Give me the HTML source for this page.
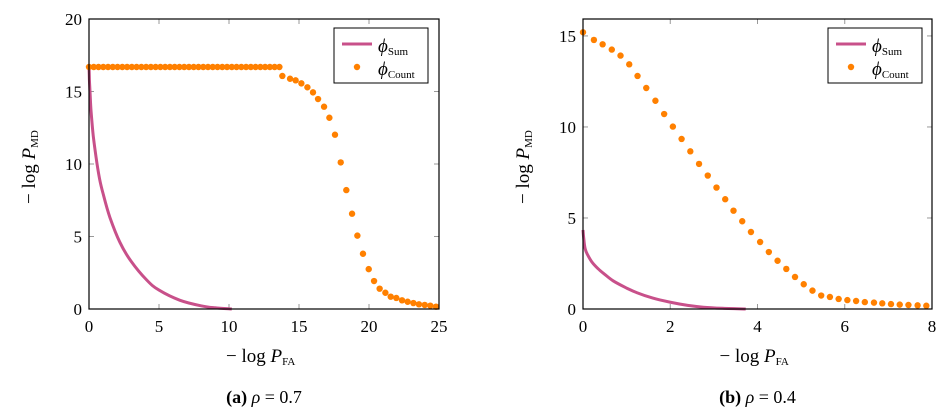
<!DOCTYPE html>
<html><head><meta charset="utf-8">
<style>
body{margin:0;background:#fff;width:952px;height:414px;overflow:hidden}
svg{display:block;font-family:"Liberation Serif",serif}
</style></head><body>
<svg id="svg" width="952" height="414"></svg>
<script>
// Chart (a) data
const aSumX=[0,0.03,0.07,0.15,0.31,0.5,0.75,1.02,1.5,2.21,3,4.12,5,6.5,8,9,10.2];
const aSumY=[16.7,15.8,15.0,13.6,11.9,10.5,9.0,7.9,6.3,4.6,3.3,2.0,1.3,0.6,0.22,0.08,0];
const aFlatCount=41, aFlatY=16.69, aFlatEnd=13.6;
const aCntX=[13.81,14.36,14.76,15.17,15.6,16.0,16.36,16.79,17.17,17.57,17.98,18.38,18.79,19.17,19.57,19.98,20.36,20.76,21.17,21.55,21.95,22.36,22.76,23.17,23.57,23.98,24.38,24.79];
const aCntY=[16.07,15.88,15.77,15.56,15.29,14.94,14.48,13.95,13.19,12.02,10.11,8.2,6.57,5.06,3.81,2.75,1.93,1.40,1.12,0.85,0.76,0.60,0.50,0.41,0.32,0.28,0.23,0.16];
const aXTicks=[0,5,10,15,20,25];
const aYTicks=[0,5,10,15,20];
// Chart (b) data
const bSumX=[0,0.02,0.05,0.1,0.2,0.35,0.5,0.69,1.0,1.23,1.6,1.99,2.4,2.76,3.2,3.73];
const bSumY=[4.34,3.8,3.3,3.0,2.6,2.2,1.9,1.55,1.15,0.9,0.6,0.38,0.2,0.1,0.04,0];
const bCntX=[0,0.25,0.45,0.66,0.86,1.06,1.25,1.45,1.66,1.86,2.06,2.26,2.46,2.66,2.86,3.06,3.26,3.45,3.65,3.85,4.06,4.26,4.46,4.66,4.86,5.06,5.26,5.46,5.66,5.86,6.06,6.26,6.46,6.67,6.86,7.06,7.26,7.46,7.67,7.87];
const bCntY=[15.2,14.78,14.54,14.25,13.92,13.44,12.8,12.14,11.44,10.71,10.02,9.34,8.66,7.97,7.33,6.67,6.03,5.40,4.82,4.23,3.68,3.13,2.65,2.20,1.76,1.36,1.01,0.74,0.66,0.55,0.49,0.44,0.38,0.35,0.31,0.27,0.24,0.22,0.20,0.18];
const bXTicks=[0,2,4,6,8];
const bYTicks=[0,5,10,15];

const NS="http://www.w3.org/2000/svg";
const svg=document.getElementById('svg');
function mk(tag,attrs,parent,text){const e=document.createElementNS(NS,tag);for(const k in attrs)e.setAttribute(k,attrs[k]);if(text!==undefined)e.textContent=text;(parent||svg).appendChild(e);return e;}
function smooth(pts){
  let d='M'+pts[0][0].toFixed(1)+','+pts[0][1].toFixed(1);
  for(let i=0;i<pts.length-1;i++){
    const p0=pts[Math.max(0,i-1)],p1=pts[i],p2=pts[i+1],p3=pts[Math.min(pts.length-1,i+2)];
    const c1=[p1[0]+(p2[0]-p0[0])/6,p1[1]+(p2[1]-p0[1])/6];
    const c2=[p2[0]-(p3[0]-p1[0])/6,p2[1]-(p3[1]-p1[1])/6];
    d+='C'+c1.map(v=>v.toFixed(1)).join(',')+' '+c2.map(v=>v.toFixed(1)).join(',')+' '+p2.map(v=>v.toFixed(1)).join(',');
  }
  return d;
}

function chart(id,L,R,T,B,xmax,ymax,xt,yt,sx,sy,cx,cy,legX,caption,rho){
  const g=mk('g',{});
  
  
  const X=v=>L+(R-L)*v/xmax, Y=v=>B-(B-T)*v/ymax;
  xt.forEach(v=>{
    mk('line',{x1:X(v),x2:X(v),y1:B,y2:B-5,stroke:'#999'},g);
    mk('line',{x1:X(v),x2:X(v),y1:T,y2:T+5,stroke:'#999'},g);
    const t=mk('text',{x:X(v),y:332,'text-anchor':'middle','font-size':17},g,String(v));
    
    
  });
  yt.forEach(v=>{
    mk('line',{x1:L,x2:L+5,y1:Y(v),y2:Y(v),stroke:'#999'},g);
    mk('line',{x1:R,x2:R-5,y1:Y(v),y2:Y(v),stroke:'#999'},g);
    const t=mk('text',{x:L-7,y:Y(v)+6,'text-anchor':'end','font-size':17},g,String(v));
    
    
  });
  const p=mk('path',{d:smooth(sx.map((v,i)=>[X(v),Y(sy[i])])),fill:'none',stroke:'#c8508a','stroke-width':3},g);
  
  
  cx.forEach((v,i)=>{
    const c=mk('circle',{cx:X(v),cy:Y(cy[i]),r:3.2,fill:'#ff8000'},g);
    
    
  });
  mk('rect',{x:L,y:T,width:R-L,height:B-T,fill:'none',stroke:'#000','stroke-width':1.2},g);
  const lg=mk('g',{},g);
  
  
  mk('rect',{x:legX,y:28,width:94,height:55,fill:'#fff',stroke:'#000','stroke-width':1},lg);
  mk('line',{x1:legX+8,x2:legX+38,y1:44,y2:44,stroke:'#c8508a','stroke-width':3},lg);
  mk('circle',{cx:legX+23,cy:67,r:3.2,fill:'#ff8000'},lg);
  const t1=mk('text',{x:legX+44,y:52,'font-size':19,'font-style':'italic'},lg,'ϕ');
  mk('tspan',{'font-size':11,'font-style':'normal',dy:3},t1,'Sum');
  const t2=mk('text',{x:legX+44,y:75,'font-size':19,'font-style':'italic'},lg,'ϕ');
  mk('tspan',{'font-size':11,'font-style':'normal',dy:3},t2,'Count');
  const cxm=(L+R)/2;
  const xl=mk('text',{x:cxm-38,y:362,'font-size':19},g,'− log ');
  mk('tspan',{'font-style':'italic'},xl,'P');
  mk('tspan',{'font-size':11,dy:3},xl,'FA');
  
  
  const ym=(T+B)/2, yx=L-54;
  const yl=mk('text',{x:0,y:0,'font-size':19,transform:`translate(${yx},${ym+40}) rotate(-90)`},g,'− log ');
  mk('tspan',{'font-style':'italic'},yl,'P');
  mk('tspan',{'font-size':11,dy:3},yl,'MD');
  
  
  const cap=mk('text',{x:cxm,y:403,'text-anchor':'middle','font-size':18},g);
  mk('tspan',{'font-weight':'bold'},cap,caption);
  mk('tspan',{'font-style':'italic'},cap,' ρ');
  mk('tspan',{},cap,' = '+rho);
  
  
}
const aAllX=[],aAllY=[];
for(let i=0;i<aFlatCount;i++){aAllX.push(aFlatEnd*i/(aFlatCount-1));aAllY.push(aFlatY);}
chart('chart-a',89,439,19,309,25,20,aXTicks,aYTicks,aSumX,aSumY,aAllX.concat(aCntX),aAllY.concat(aCntY),334,'(a)','0.7');
chart('chart-b',583,932,19,309,8,15.93,bXTicks,bYTicks,bSumX,bSumY,bCntX,bCntY,828,'(b)','0.4');
</script>
</body></html>
